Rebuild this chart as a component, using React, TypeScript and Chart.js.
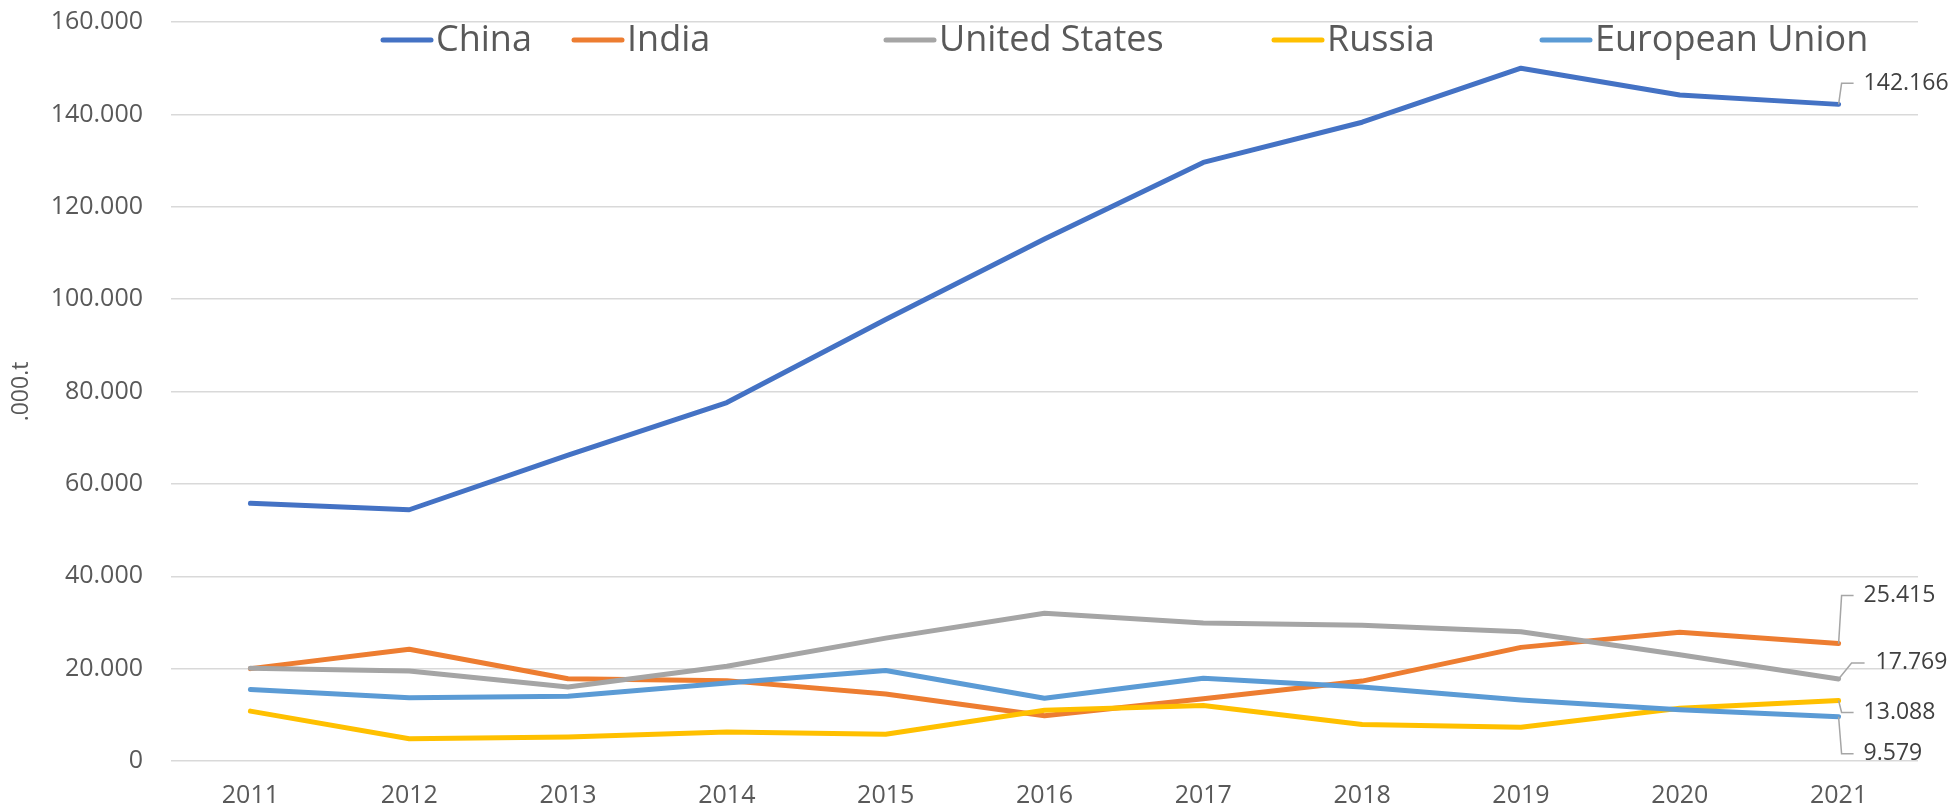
import React, { useEffect, useRef } from "react";
import { Chart, registerables } from "chart.js";

Chart.register(...registerables);

// ---- data ----
const years = ["2011", "2012", "2013", "2014", "2015", "2016", "2017", "2018", "2019", "2020", "2021"];
const china = [55800, 54400, 66200, 77600, 95600, 113000, 129600, 138300, 150000, 144200, 142166];
const india = [20000, 24200, 17800, 17400, 14500, 9800, 13500, 17300, 24600, 27900, 25415];
const unitedStates = [20100, 19500, 16000, 20500, 26600, 32000, 29900, 29400, 28000, 23000, 17769];
const russia = [10800, 4800, 5200, 6300, 5800, 11000, 12000, 7900, 7300, 11400, 13088];
const europeanUnion = [15500, 13700, 14000, 16900, 19600, 13600, 17900, 16000, 13200, 11100, 9579];
const seriesNames = ["China", "India", "United States", "Russia", "European Union"];
const yTickValues = [0, 20000, 40000, 60000, 80000, 100000, 120000, 140000, 160000];
const yAxisTitle = ".000.t";

// ---- styles / layout ----
const seriesColors = ["#4472C4", "#ED7D31", "#A5A5A5", "#FFC000", "#5B9BD5"];
const FONT = "'Open Sans', 'Noto Sans', sans-serif";
const legendX = [381, 572, 884, 1272, 1540];
const legendY = 40;
// label placement relative to the last point of each series
const labelPlace = [
  { ex: 3, ey: -21, lx: 15, tx: 25 },
  { ex: 3, ey: -48, lx: 15, tx: 25 },
  { ex: 13, ey: -16, lx: 26, tx: 37 },
  { ex: 3, ey: 12, lx: 15, tx: 25 },
  { ex: 3, ey: 37, lx: 15, tx: 25 },
];

const fmt = (n: number) => String(Math.round(n)).replace(/\B(?=(\d{3})+(?!\d))/g, ".");

const overlayPlugin = {
  id: "overlay",
  afterDatasetsDraw(chart: any) {
    const ctx = chart.ctx as CanvasRenderingContext2D;
    ctx.save();
    // data labels on last point
    chart.data.datasets.forEach((ds: any, i: number) => {
      const meta = chart.getDatasetMeta(i);
      const last = meta.data[meta.data.length - 1];
      if (!last) return;
      const p = labelPlace[i];
      const px = last.x;
      const py = last.y;
      ctx.strokeStyle = "#A6A6A6";
      ctx.lineWidth = 1.5;
      ctx.beginPath();
      ctx.moveTo(px, py);
      ctx.lineTo(px + p.ex, py + p.ey);
      ctx.lineTo(px + p.lx, py + p.ey);
      ctx.stroke();
      ctx.fillStyle = "#404040";
      ctx.font = `23px ${FONT}`;
      ctx.textAlign = "left";
      ctx.textBaseline = "middle";
      ctx.fillText(fmt(ds.data[ds.data.length - 1]), px + p.tx, py + p.ey);
    });
    // legend
    seriesNames.forEach((name, i) => {
      const x = legendX[i];
      ctx.strokeStyle = seriesColors[i];
      ctx.lineWidth = 5;
      ctx.lineCap = "round";
      ctx.beginPath();
      ctx.moveTo(x + 2, legendY);
      ctx.lineTo(x + 50, legendY);
      ctx.stroke();
      ctx.fillStyle = "#595959";
      ctx.font = `36px ${FONT}`;
      ctx.textAlign = "left";
      ctx.textBaseline = "middle";
      ctx.fillText(name, x + 55, legendY + 1);
    });
    ctx.restore();
  },
};

export default function App() {
  const ref = useRef<HTMLCanvasElement | null>(null);
  useEffect(() => {
    document.body.style.margin = "0";
    const allSeries = [china, india, unitedStates, russia, europeanUnion];
    const chart = new Chart(ref.current as HTMLCanvasElement, {
      type: "line",
      data: {
        labels: years,
        datasets: allSeries.map((d, i) => ({
          label: seriesNames[i],
          data: d,
          borderColor: seriesColors[i],
          backgroundColor: seriesColors[i],
          borderWidth: 5,
          pointRadius: 0,
          tension: 0,
          borderCapStyle: "round" as const,
          borderJoinStyle: "round" as const,
          order: allSeries.length - i,
        })),
      },
      options: {
        animation: false,
        responsive: false,
        layout: { padding: { left: 0, top: 22, right: 41, bottom: 0 } },
        plugins: { legend: { display: false }, tooltip: { enabled: false } },
        scales: {
          x: {
            offset: true,
            grid: { display: false, drawTicks: false },
            border: { display: false },
            ticks: {
              color: "#595959",
              font: { family: FONT, size: 25 },
              padding: 20,
              maxRotation: 0,
              autoSkip: false,
            },
            afterFit: (s: any) => {
              s.height = 51;
              s.paddingLeft = 0;
              s.paddingRight = 0;
            },
          },
          y: {
            min: 0,
            max: 160000,
            afterBuildTicks: (s: any) => {
              s.ticks = yTickValues.map((v) => ({ value: v }));
            },
            grid: { color: "#D9D9D9", lineWidth: 1.5, drawTicks: false },
            border: { display: false },
            ticks: {
              color: "#595959",
              font: { family: FONT, size: 25 },
              padding: 28,
              callback: (v: any) => fmt(Number(v)),
            },
            title: {
              display: true,
              text: yAxisTitle,
              color: "#595959",
              font: { family: FONT, size: 23 },
              padding: { top: 8, bottom: 0 },
            },
            afterFit: (s: any) => {
              s.width = 171;
              s.paddingTop = 0;
              s.paddingBottom = 0;
            },
          },
        },
      },
      plugins: [overlayPlugin],
    });
    return () => chart.destroy();
  }, []);
  return (
    <div style={{ width: 1959, height: 812, background: "#fff" }}>
      <canvas ref={ref} width={1959} height={812} style={{ display: "block" }} />
    </div>
  );
}
